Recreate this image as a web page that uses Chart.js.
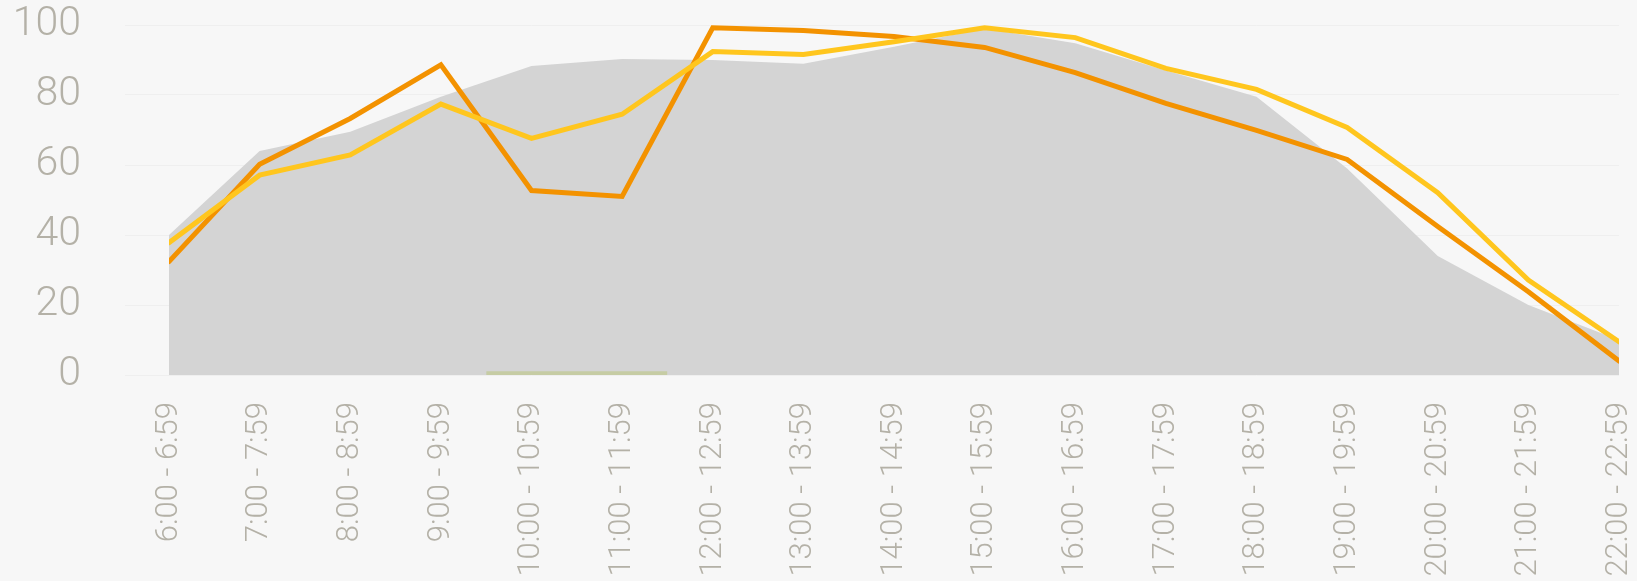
<!DOCTYPE html>
<html>
<head>
<meta charset="utf-8">
<script src="https://cdn.jsdelivr.net/npm/chart.js@4/dist/chart.umd.min.js"></script>
<style>
  html, body { margin: 0; padding: 0; background: #f7f7f7; }
  #wrap { width: 1637px; height: 581px; }
</style>
</head>
<body>
<div id="wrap"><canvas id="hoursChart" width="1637" height="581"></canvas></div>
<script>
// time slots
const hourLabels = ['6:00 - 6:59', '7:00 - 7:59', '8:00 - 8:59', '9:00 - 9:59', '10:00 - 10:59',
    '11:00 - 11:59', '12:00 - 12:59', '13:00 - 13:59', '14:00 - 14:59', '15:00 - 15:59',
    '16:00 - 16:59', '17:00 - 17:59', '18:00 - 18:59', '19:00 - 19:59', '20:00 - 20:59',
    '21:00 - 21:59', '22:00 - 22:59'];

// series values (0-100)
const grayArea = [40, 64, 69.5, 79.5, 88.3, 90.3, 90, 88.9, 93.8, 99, 94.8, 87, 79.5, 59, 34, 20, 10];
const orangeLine = [32.4, 60.2, 73.3, 88.6, 52.7, 51, 99.2, 98.4, 96.7, 93.6, 86.4, 77.6, 69.9, 61.6, 42.4, 23.8, 4];
const yellowLine = [37.8, 57.1, 62.9, 77.4, 67.6, 74.5, 92.4, 91.6, 95.2, 99.2, 96.4, 87.6, 81.6, 70.7, 52.1, 27.1, 9.5];

// small highlighted band at the bottom (from slot 3.5 to 5.5)
const bandStart = 3.5;
const bandEnd = 5.5;
const bandValue = 1.1;

const yTicks = [0, 20, 40, 60, 80, 100];

const toPoints = arr => arr.map((v, i) => ({ x: i, y: v }));

// no extra padding from tick labels, layout is fixed by hand
function noPadding(scale) {
    scale.paddingTop = 0;
    scale.paddingBottom = 0;
    scale.paddingLeft = 0;
    scale.paddingRight = 0;
}

const bgPlugin = {
    id: 'bg',
    beforeDraw(chart) {
        const c = chart.ctx;
        c.save();
        c.fillStyle = '#f7f7f7';
        c.fillRect(0, 0, chart.width, chart.height);
        c.restore();
    }
};

const ctx = document.getElementById('hoursChart').getContext('2d');
const hoursChart = new Chart(ctx, {
    type: 'line',
    data: {
        datasets: [{
            data: toPoints(yellowLine),
            borderColor: '#ffc61e',
            borderWidth: 5,
            borderCapStyle: 'round',
            pointRadius: 0,
            fill: false,
            tension: 0,
            order: 0
        }, {
            data: toPoints(orangeLine),
            borderColor: '#f39200',
            borderWidth: 5,
            borderCapStyle: 'round',
            pointRadius: 0,
            fill: false,
            tension: 0,
            order: 1
        }, {
            data: [{ x: bandStart, y: bandValue }, { x: bandEnd, y: bandValue }],
            borderWidth: 0,
            borderColor: 'rgba(0,0,0,0)',
            backgroundColor: '#c6cca4',
            pointRadius: 0,
            fill: 'origin',
            order: 2
        }, {
            data: toPoints(grayArea),
            borderWidth: 0,
            borderColor: 'rgba(0,0,0,0)',
            backgroundColor: '#d4d4d4',
            pointRadius: 0,
            fill: 'origin',
            tension: 0,
            order: 3
        }]
    },
    options: {
        responsive: false,
        animation: false,
        layout: {
            padding: { top: 25, right: 18, left: 0, bottom: 0 }
        },
        scales: {
            x: {
                type: 'linear',
                min: 0,
                max: hourLabels.length - 1,
                border: { display: false },
                grid: { display: false, drawTicks: false },
                ticks: {
                    stepSize: 1,
                    autoSkip: false,
                    minRotation: 90,
                    maxRotation: 90,
                    padding: 27,
                    color: '#b4b1a7',
                    font: { family: 'Roboto', weight: 300, size: 31 },
                    callback: v => hourLabels[v] ?? ''
                },
                afterFit(scale) {
                    scale.height = 206;
                    noPadding(scale);
                }
            },
            y: {
                min: 0,
                max: 100,
                border: { display: false },
                grid: {
                    color: '#efefef',
                    lineWidth: 1,
                    drawTicks: true,
                    tickLength: 44
                },
                afterBuildTicks(scale) {
                    scale.ticks = yTicks.map(v => ({ value: v }));
                },
                ticks: {
                    padding: 44,
                    color: '#b4b1a7',
                    font: { family: 'Roboto', weight: 300, size: 41 }
                },
                afterFit(scale) {
                    scale.width = 169;
                    noPadding(scale);
                }
            }
        },
        plugins: {
            legend: { display: false },
            tooltip: { enabled: false }
        }
    },
    plugins: [bgPlugin]
});
</script>
</body>
</html>
